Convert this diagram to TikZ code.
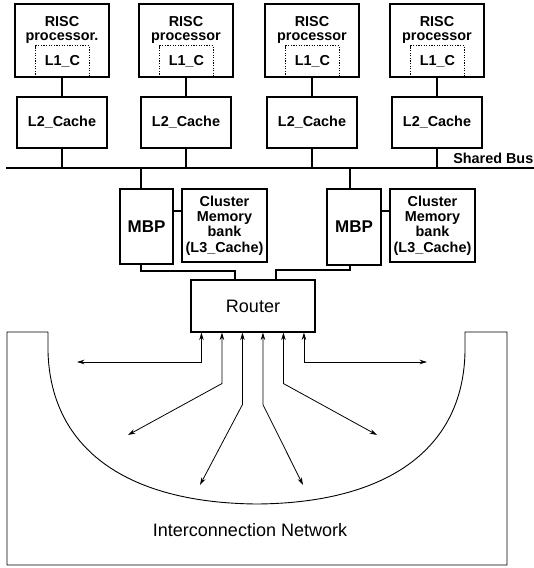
\documentclass[tikz,border=0pt]{standalone}
\usepackage{fontspec}
\setmainfont{Liberation Sans}
\usetikzlibrary{arrows.meta}
\begin{document}
\begin{tikzpicture}[x=1pt,y=-1pt,
  bf/.style={font=\fontsize{14.4}{15.4}\selectfont\bfseries},
  box/.style={draw, line width=1.3pt, inner sep=0pt},
  conn/.style={line width=1.2pt},
  arr/.style={line width=0.8pt, {Stealth[length=7.5pt,width=4.5pt]}-{Stealth[length=7.5pt,width=4.5pt]}},
  thin/.style={line width=0.9pt}]
\useasboundingbox (0,0) rectangle (534,568);

% processors and L2 caches
\foreach \c/\i/\t in {62/1/processor.,186/2/processor,312/3/processor,437/4/processor}{
  \node[box, minimum width=94pt, minimum height=73pt] (p\i) at (\c,40.5) {};
  \node[bf, inner sep=0pt, anchor=base] (rs\i) at (\c,26.5) {RISC};
  \node[bf, inner sep=0pt, anchor=base] (pt\i) at (\c,40) {\t};
  \node[bf, inner sep=0pt, minimum width=53pt, minimum height=31pt] (l\i) at (\c+0.5,61.5) {L1\_C};
  \draw[line width=1.2pt, dash pattern=on 1.2pt off 1.4pt] (l\i.south west) -- (l\i.north west) -- (l\i.north east) -- (l\i.south east);
  \node[box, bf, minimum width=90pt, minimum height=51pt] (c\i) at (\c,122.5) {L2\_Cache};
  \draw[conn] (p\i.south) -- (c\i.north);
  \coordinate (b\i) at (\c,168);
  \draw[conn] (c\i.south) -- (b\i);
}

% shared bus
\coordinate (busL) at (6,168);
\coordinate (busR) at (534,168);
\draw[line width=1.5pt] (busL) -- (busR);
\node[bf, inner sep=0pt, anchor=base east] (sb) at (533.5,163) {Shared Bus};

% MBPs and cluster memory banks
\node[box, minimum width=53pt, minimum height=75pt, font=\fontsize{17}{18}\selectfont\bfseries] (m1) at (146.5,226.5) {MBP};
\node[box, bf, align=center, minimum width=85pt, minimum height=73pt] (k1) at (224.5,225.5) {Cluster\\Memory\\bank\\(L3\_Cache)};
\node[box, minimum width=54pt, minimum height=76pt, font=\fontsize{17}{18}\selectfont\bfseries] (m2) at (354,227) {MBP};
\node[box, bf, align=center, minimum width=85pt, minimum height=73pt] (k2) at (432.5,225.5) {Cluster\\Memory\\bank\\(L3\_Cache)};

\coordinate (t1) at (141,168);
\coordinate (t2) at (350,168);
\coordinate (hy) at (0,211);
\draw[conn] (t1) -- (t1 |- m1.north);
\draw[conn] (t2) -- (t2 |- m2.north);
\draw[conn] (m1.east |- hy) -- (k1.west |- hy);
\draw[conn] (m2.east |- hy) -- (k2.west |- hy);

% router
\node[draw, line width=1.1pt, minimum width=124pt, minimum height=52pt, inner sep=0pt, font=\fontsize{18}{20}\selectfont] (rt) at (253,306) {Router};

\coordinate (j1) at (235,271);
\coordinate (j2) at (276,270);
\draw[conn] (t1 |- m1.south) |- (j1) -- (j1 |- rt.north);
\draw[conn] (t2 |- m2.south) |- (j2) -- (j2 |- rt.north);

% router outputs
\path (rt.south west) ++(11,0) coordinate (o1);
\path (rt.south west) ++(31.5,0) coordinate (o2);
\path (rt.south west) ++(52,0) coordinate (o3);
\path (rt.south west) ++(72.5,0) coordinate (o4);
\path (rt.south west) ++(93,0) coordinate (o5);
\path (rt.south west) ++(113.5,0) coordinate (o6);
\coordinate (e1) at (77,362);
\coordinate (e2) at (128,435);
\coordinate (e3) at (200,485);
\coordinate (e4) at (303,485);
\coordinate (e5) at (377,435);
\coordinate (e6) at (427,362);
\draw[arr] (o1) |- (e1);
\draw[arr] (o2) -- ++(0,51) -- (e2);
\draw[arr] (o3) -- ++(0,72) -- (e3);
\draw[arr] (o4) -- ++(0,72) -- (e4);
\draw[arr] (o5) -- ++(0,51) -- (e5);
\draw[arr] (o6) |- (e6);

% interconnection network outline
\draw[thin, line join=round] (7,332) -- (48,332) -- (48,352)
  .. controls (51,450) and (128,503) .. (257,504)
  .. controls (386,503) and (463,450) .. (465,352)
  -- (465,332) -- (507,332) -- (507,565) -- (7,565) -- cycle;
\node[font=\fontsize{18}{20}\selectfont, inner sep=0pt] (net) at (250,530.5) {Interconnection Network};
\end{tikzpicture}
\end{document}
